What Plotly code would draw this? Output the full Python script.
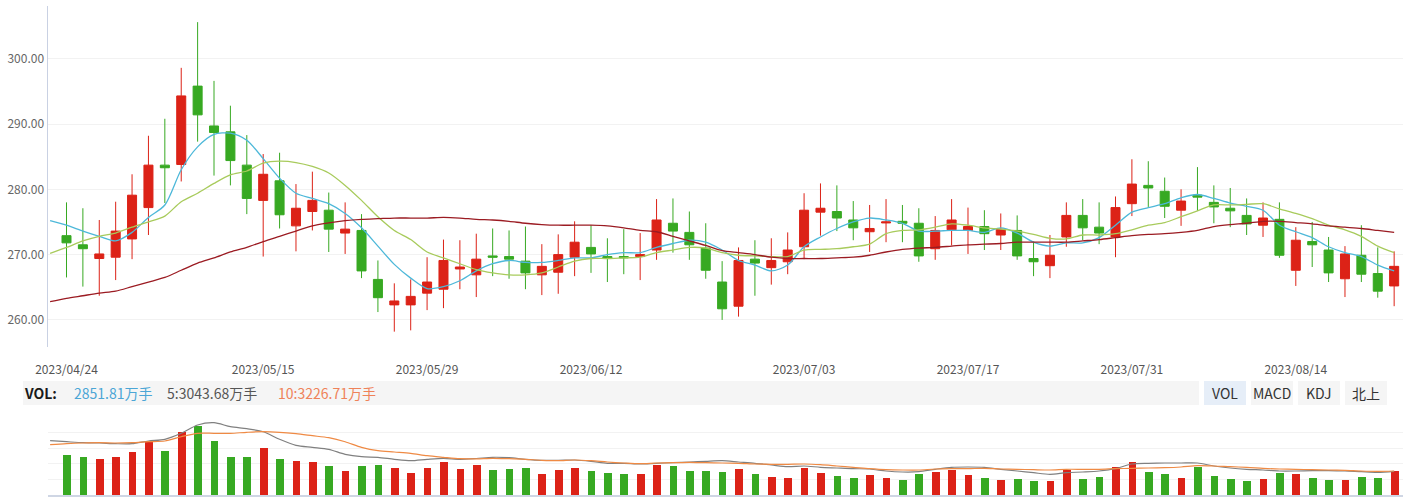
import plotly.graph_objects as go

W, H = 1419, 498

# trading dates (first one only carries the moving-average lines)
dates = [
    "2023/04/21",
    "2023/04/24", "2023/04/25", "2023/04/26", "2023/04/27", "2023/04/28",
    "2023/05/04", "2023/05/05",
    "2023/05/08", "2023/05/09", "2023/05/10", "2023/05/11", "2023/05/12",
    "2023/05/15", "2023/05/16", "2023/05/17", "2023/05/18", "2023/05/19",
    "2023/05/22", "2023/05/23", "2023/05/24", "2023/05/25", "2023/05/26",
    "2023/05/29", "2023/05/30", "2023/05/31", "2023/06/01", "2023/06/02",
    "2023/06/05", "2023/06/06", "2023/06/07", "2023/06/08", "2023/06/09",
    "2023/06/12", "2023/06/13", "2023/06/14", "2023/06/15", "2023/06/16",
    "2023/06/19", "2023/06/20", "2023/06/21",
    "2023/06/26", "2023/06/27", "2023/06/28", "2023/06/29", "2023/06/30",
    "2023/07/03", "2023/07/04", "2023/07/05", "2023/07/06", "2023/07/07",
    "2023/07/10", "2023/07/11", "2023/07/12", "2023/07/13", "2023/07/14",
    "2023/07/17", "2023/07/18", "2023/07/19", "2023/07/20", "2023/07/21",
    "2023/07/24", "2023/07/25", "2023/07/26", "2023/07/27", "2023/07/28",
    "2023/07/31", "2023/08/01", "2023/08/02", "2023/08/03", "2023/08/04",
    "2023/08/07", "2023/08/08", "2023/08/09", "2023/08/10", "2023/08/11",
    "2023/08/14", "2023/08/15", "2023/08/16", "2023/08/17", "2023/08/18",
    "2023/08/21", "2023/08/22",
]
tick_dates = ["2023/04/24", "2023/05/15", "2023/05/29", "2023/06/12",
              "2023/07/03", "2023/07/17", "2023/07/31", "2023/08/14"]

open_ = [272.9, 271.5, 269.4, 269.6, 272.4, 277.2, 283.7, 283.8, 295.8, 289.7,
         288.8, 283.7, 278.3, 281.3, 274.4, 276.6, 276.8, 273.3, 273.7, 266.2,
         262.3, 262.3, 264.1, 264.7, 267.8, 266.9, 269.8, 269.7, 269.0, 266.9,
         267.3, 269.6, 271.1, 269.7, 269.7, 269.7, 270.7, 274.8, 273.4, 271.0,
         265.8, 262.1, 269.3, 268.0, 268.9, 271.2, 276.5, 276.6, 275.3, 273.5,
         274.85, 275.1, 274.8, 270.9, 273.8, 273.7, 274.3, 273.0, 273.7, 269.4,
         268.3, 272.7, 276.0, 274.2, 272.7, 277.8, 280.6, 279.7, 276.8, 279.1,
         278.0, 277.1, 276.0, 274.5, 275.4, 267.6, 272.0, 270.7, 266.3, 269.9,
         267.1, 265.2]
high = [278.0, 277.1, 275.3, 278.1, 282.3, 288.2, 290.8, 298.6, 305.6, 296.6,
        292.8, 288.3, 285.4, 285.6, 280.8, 282.7, 279.5, 278.0, 276.2, 269.1,
        265.6, 266.2, 269.6, 272.3, 272.2, 273.2, 274.0, 273.7, 274.3, 271.6,
        273.1, 275.1, 274.5, 272.5, 273.9, 273.3, 278.5, 278.6, 276.6, 274.8,
        269.0, 271.1, 272.2, 272.5, 273.4, 279.4, 280.9, 280.6, 278.2, 277.6,
        278.5, 277.6, 277.1, 275.9, 278.5, 277.2, 276.8, 276.3, 276.0, 272.0,
        273.0, 278.0, 278.5, 278.0, 278.9, 284.6, 284.3, 281.8, 280.0, 283.4,
        280.6, 280.2, 278.6, 278.0, 278.0, 274.2, 275.0, 272.7, 271.3, 274.5,
        271.1, 270.5]
low = [266.5, 265.1, 263.7, 266.1, 269.3, 273.0, 277.9, 281.2, 287.3, 282.1,
       280.6, 276.2, 269.7, 274.0, 270.5, 273.7, 270.4, 270.1, 266.4, 261.2,
       258.2, 258.4, 261.5, 261.8, 264.7, 263.5, 266.7, 266.3, 264.7, 263.8,
       264.0, 266.7, 267.2, 265.8, 267.0, 266.1, 269.2, 270.3, 269.2, 266.3,
       260.0, 260.5, 263.7, 265.4, 267.0, 269.3, 272.9, 273.6, 272.2, 270.4,
       271.9, 271.9, 268.9, 269.2, 271.4, 270.1, 270.7, 270.7, 269.2, 266.7,
       266.4, 271.2, 272.2, 271.6, 269.6, 275.9, 277.3, 275.6, 274.4, 276.7,
       274.8, 274.2, 273.0, 272.7, 269.5, 265.2, 268.1, 265.8, 263.5, 265.8,
       263.4, 262.1]
close = [271.8, 270.9, 270.1, 273.6, 279.1, 283.7, 283.3, 294.3, 291.4, 288.7,
         284.4, 278.6, 282.3, 276.1, 277.1, 278.3, 273.9, 273.9, 267.5, 263.4,
         262.9, 263.6, 265.8, 269.1, 268.1, 269.3, 269.6, 269.3, 267.2, 268.2,
         270.0, 271.9, 270.1, 269.4, 269.5, 270.0, 275.3, 273.6, 271.5, 267.6,
         261.7, 269.1, 268.7, 269.1, 270.7, 276.8, 277.1, 275.6, 274.1, 274.0,
         275.0, 274.8, 269.8, 273.7, 275.3, 274.3, 273.2, 273.9, 269.8, 268.9,
         269.9, 276.0, 274.1, 273.3, 277.2, 280.8, 280.2, 277.4, 278.2, 278.8,
         277.3, 276.7, 274.7, 275.6, 269.9, 272.2, 271.5, 267.2, 270.1, 267.0,
         264.4, 268.2]

ma5 = [275.2, 274.5, 273.6, 272.8, 272.1, 273.4, 275.7, 277.6, 283.0, 286.5,
       288.4, 288.6, 287.5, 284.7, 281.7, 279.4, 278.6, 277.8, 276.3, 274.1,
       271.3, 268.5, 266.4, 264.8, 265.1, 266.0, 267.5, 268.6, 269.1, 268.8,
       268.8, 269.1, 269.5, 269.5, 270.0, 270.3, 270.3, 271.1, 271.7, 272.2,
       271.9, 270.7, 269.1, 268.4, 267.5, 268.4, 271.2, 272.7, 274.0, 275.0,
       275.6, 275.3, 274.8, 273.6, 273.6, 273.7, 273.7, 273.4, 274.1, 273.3,
       271.9, 271.3, 271.8, 271.8, 272.6, 274.5, 276.5, 277.2, 277.8, 278.7,
       279.2, 278.6, 277.9, 277.4, 276.8, 274.5, 273.5, 272.6, 271.2, 270.3,
       269.7, 268.4, 267.5]
ma10 = [270.2, 271.1, 272.1, 272.8, 273.3, 274.2, 275.0, 275.9, 278.1, 279.4,
        280.9, 282.2, 282.8, 284.0, 284.3, 284.1, 283.5, 282.5, 280.6, 278.3,
        275.8, 273.7, 272.3, 270.4, 269.5, 268.6, 267.7, 267.2, 266.9, 266.9,
        267.2, 268.1, 269.0, 269.4, 269.4, 269.5, 269.6, 270.3, 270.7, 271.1,
        271.0, 270.3, 269.9, 269.8, 269.7, 269.7, 270.7, 270.8, 270.9, 271.2,
        271.6, 273.2, 273.7, 273.8, 274.2, 274.7, 274.5, 274.1, 273.9, 273.6,
        273.1, 272.5, 272.4, 273.0, 273.0, 273.2, 273.8, 274.5, 274.9, 275.8,
        276.7, 277.6, 277.6, 277.7, 277.8, 277.0, 276.3, 275.5, 274.5, 273.8,
        272.8, 271.3, 270.3]
ma60 = [262.8, 263.3, 263.7, 264.1, 264.4, 265.1, 265.8, 266.5, 267.6, 268.7,
        269.5, 270.4, 271.1, 272.0, 272.8, 273.6, 274.4, 274.85, 275.2, 275.4,
        275.5, 275.6, 275.6, 275.6, 275.7, 275.6, 275.4, 275.3, 275.1, 274.8,
        274.6, 274.5, 274.5, 274.5, 274.4, 274.1, 273.7, 273.5, 272.8, 272.1,
        271.4, 270.6, 270.3, 270.0, 269.6, 269.4, 269.4, 269.4, 269.5, 269.6,
        269.9, 270.4, 270.8, 271.0, 271.1, 271.3, 271.5, 271.6, 271.7, 271.9,
        271.9, 271.9, 271.9, 272.1, 272.3, 272.6, 272.9, 273.1, 273.2, 273.4,
        273.7, 274.3, 274.6, 274.8, 275.1, 275.1, 274.9, 274.7, 274.4, 274.2,
        274.0, 273.7, 273.4]

# volume, 万手
volume = [4730, 4495, 4260, 4495, 5082, 6373, 5199, 7429, 8133, 6373,
          4495, 4495, 5551, 4260, 4025, 3908, 3439, 2852, 3439, 3556,
          3204, 2617, 3204, 3908, 3087, 3556, 2969, 3087, 3204, 2500,
          2969, 3204, 2852, 2617, 2500, 2500, 3556, 3439, 2852, 2852,
          2735, 3087, 2500, 2148, 2030, 3204, 2617, 2265, 2030, 2382,
          2030, 1796, 2500, 2735, 2969, 2382, 2030, 1796, 1913, 1678,
          1678, 2969, 1913, 2148, 3321, 3908, 2735, 2500, 2030, 3321,
          2265, 1913, 1678, 1913, 2617, 2500, 2030, 1796, 1796, 2148,
          2030, 2851.81]
vol_ma5 = [6408, 6290, 6173, 6138, 6056, 6056, 6373, 6572, 7276, 8250,
           8520, 8051, 7816, 7464, 6572, 5868, 5633, 5399, 4812, 4530,
           4460, 4225, 4061, 4225, 4342, 4225, 4319, 4460, 4413, 4225,
           4108, 4108, 4143, 3990, 3756, 3756, 3673, 3756, 3826, 3908,
           3990, 4061, 3908, 3756, 3556, 3357, 3439, 3286, 3204, 3122,
           3087, 2852, 2735, 2770, 3051, 3286, 3321, 3286, 3051, 2852,
           2652, 2465, 2652, 2735, 2852, 3122, 3673, 3756, 3791, 3791,
           3791, 3439, 3204, 3051, 2969, 2852, 2852, 2887, 2887, 2852,
           2770, 2699, 2817]
vol_ma10 = [5938, 6056, 6138, 6173, 6138, 6173, 6290, 6373, 6877, 7276,
            7276, 7276, 7394, 7464, 7394, 7229, 6995, 6760, 6290, 5633,
            5234, 5082, 4929, 4647, 4460, 4295, 4284, 4342, 4295, 4225,
            4108, 4061, 4143, 4061, 3908, 3791, 3709, 3791, 3826, 3873,
            3826, 3791, 3756, 3673, 3638, 3638, 3673, 3591, 3439, 3286,
            3122, 3004, 2969, 2969, 3087, 3122, 3122, 3169, 3087, 3051,
            3004, 2969, 3051, 3051, 3051, 3122, 3169, 3204, 3239, 3321,
            3474, 3439, 3357, 3286, 3169, 3087, 3051, 3004, 2969, 2934,
            2852, 2817, 2852]

vol_last = "2851.81万手"
vol_ma5_text = "5:3043.68万手"
vol_ma10_text = "10:3226.71万手"
buttons = ["VOL", "MACD", "KDJ", "北上"]

RED = "#dc2217"
GREEN = "#37a922"
FONT = "Noto Sans CJK SC"

x_all = list(range(-1, len(dates) - 1))
x_k = x_all[1:]
tickvals = [x_all[dates.index(d)] for d in tick_dates]
bar_colors = [RED if c >= o else GREEN for o, c in zip(open_, close)]

fig = go.Figure()
fig.add_trace(go.Candlestick(
    x=x_k, open=open_, high=high, low=low, close=close,
    increasing=dict(line=dict(color=RED, width=1), fillcolor=RED),
    decreasing=dict(line=dict(color=GREEN, width=1), fillcolor=GREEN),
    whiskerwidth=0, hoverinfo="skip", showlegend=False,
    xaxis="x", yaxis="y"))
for vals, col in [(ma5, "#4db8d9"), (ma10, "#a8cb5c"), (ma60, "#9b1b22")]:
    fig.add_trace(go.Scatter(
        x=x_all, y=vals, mode="lines",
        line=dict(color=col, width=1.3, shape="spline", smoothing=0.8),
        hoverinfo="skip", showlegend=False, xaxis="x", yaxis="y"))

fig.add_trace(go.Bar(
    x=x_k, y=volume, marker=dict(color=bar_colors, line=dict(width=0)),
    width=0.47, hoverinfo="skip", showlegend=False, xaxis="x2", yaxis="y2"))
for vals, col in [(vol_ma5, "#808080"), (vol_ma10, "#ef8a44")]:
    fig.add_trace(go.Scatter(
        x=x_all, y=vals, mode="lines",
        line=dict(color=col, width=1.2, shape="spline", smoothing=0.8),
        hoverinfo="skip", showlegend=False, xaxis="x2", yaxis="y2"))

x_left = 47.5 / W
x_right = 1403 / W
xr = [-1.159, 81.54]

def py(p):
    return 1 - p / H

shapes = [
    dict(type="rect", xref="paper", yref="paper",
         x0=23 / W, x1=1199 / W, y0=py(405), y1=py(381),
         fillcolor="#f5f5f5", line=dict(width=0), layer="below"),
]
btn_x = [1204, 1251, 1298, 1345]
for i, bx in enumerate(btn_x):
    shapes.append(dict(type="rect", xref="paper", yref="paper",
                       x0=bx / W, x1=(bx + 42) / W, y0=py(405), y1=py(381),
                       fillcolor="#e6eef8" if i == 0 else "#f5f5f5",
                       line=dict(width=0), layer="below"))

annotations = [
    dict(text="<b>VOL:</b>", x=22 / W, y=py(393), xref="paper", yref="paper",
         xanchor="left", yanchor="middle", showarrow=False,
         font=dict(family=FONT, size=14, color="#1a1a1a")),
    dict(text=vol_last, x=72 / W, y=py(393), xref="paper", yref="paper",
         xanchor="left", yanchor="middle", showarrow=False,
         font=dict(family=FONT, size=14, color="#4ba6d6")),
    dict(text=vol_ma5_text, x=165 / W, y=py(393), xref="paper", yref="paper",
         xanchor="left", yanchor="middle", showarrow=False,
         font=dict(family=FONT, size=14, color="#555555")),
    dict(text=vol_ma10_text, x=276 / W, y=py(393), xref="paper", yref="paper",
         xanchor="left", yanchor="middle", showarrow=False,
         font=dict(family=FONT, size=14, color="#ef8259")),
]
for bx, label in zip(btn_x, buttons):
    annotations.append(dict(text=label, x=(bx + 21) / W, y=py(393),
                            xref="paper", yref="paper", xanchor="center",
                            yanchor="middle", showarrow=False,
                            font=dict(family=FONT, size=14, color="#333333")))

fig.update_layout(
    width=W, height=H,
    margin=dict(l=0, r=0, t=0, b=0, autoexpand=False),
    paper_bgcolor="white", plot_bgcolor="white",
    boxgap=0.45, boxgroupgap=0,
    bargap=0,
    font=dict(family=FONT, size=12, color="#666666"),
    xaxis=dict(domain=[x_left, x_right], range=xr, anchor="y",
               automargin=False,
               showgrid=False, zeroline=False, showline=False,
               rangeslider=dict(visible=False),
               tickmode="array", tickvals=tickvals, ticktext=tick_dates,
               ticks="outside", ticklen=12, tickcolor="rgba(0,0,0,0)",
               tickfont=dict(family=FONT, size=12, color="#555555")),
    yaxis=dict(domain=[py(347), py(6)], range=[255.85, 308.07], anchor="x",
               automargin=False,
               dtick=10, tick0=0, tickformat=".2f",
               showgrid=True, gridcolor="#f2f2f2", gridwidth=1,
               zeroline=False, showline=True, linecolor="#c9d1e3", linewidth=1,
               ticks="", tickfont=dict(family=FONT, size=12, color="#666666")),
    xaxis2=dict(domain=[x_left, x_right], range=xr, anchor="y2",
                automargin=False,
                showgrid=False, zeroline=False, showline=True,
                linecolor="#cfd6e4", linewidth=1.5, showticklabels=False,
                ticks=""),
    yaxis2=dict(domain=[py(495.3), py(416.7)], range=[0, 9225], anchor="x2",
                automargin=False,
                dtick=1845, tick0=0, showgrid=True, gridcolor="#f2f2f2",
                zeroline=False, showline=False, showticklabels=False, ticks=""),
    shapes=shapes,
    annotations=annotations,
)

fig.write_html("out.html", config={"displayModeBar": False})
